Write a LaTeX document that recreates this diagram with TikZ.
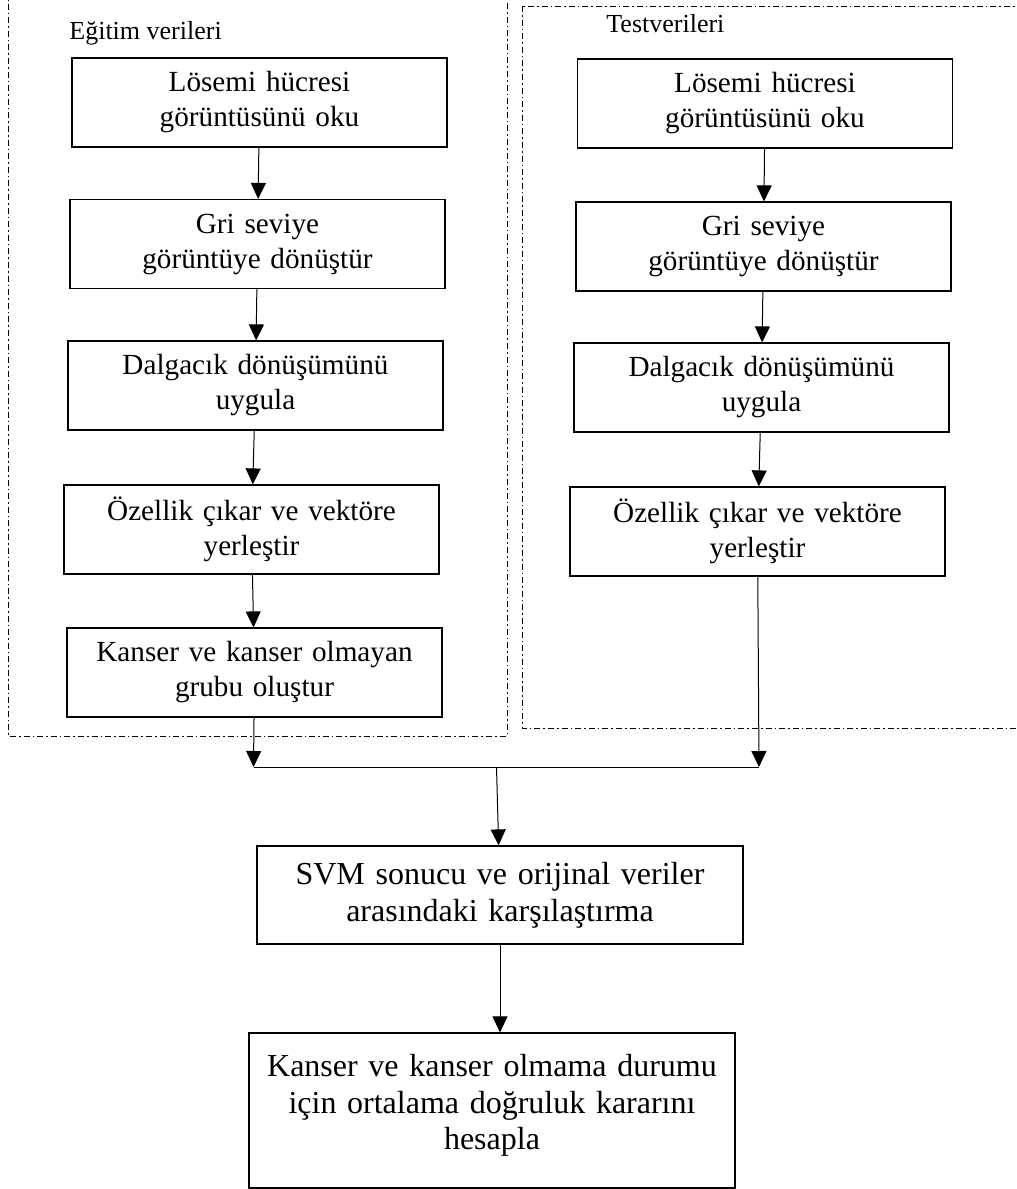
\documentclass[tikz,border=0pt]{standalone}
\usepackage{fontspec}
\setmainfont{Liberation Serif}
\usetikzlibrary{arrows.meta}

\tikzstyle{block} = [rectangle, draw, line width=0.6pt, text width=180pt, inner xsep=3.75pt, text centered, minimum height=44.5pt, font=\fontsize{14.6}{17.5}\selectfont]
\tikzstyle{bigblock} = [rectangle, draw, line width=0.6pt, text width=235pt, inner xsep=4pt, text centered, font=\fontsize{16}{18.3}\selectfont]
\tikzstyle{conn} = [draw, line width=0.5pt]
\tikzstyle{flow} = [draw, line width=0.5pt, -{Triangle[length=8pt,width=7.5pt]}]
\tikzstyle{groupframe} = [draw, line width=0.5pt, dash pattern=on 3pt off 1.5pt on 0.8pt off 1.5pt]
\tikzstyle{grouplabel} = [anchor=base west, inner sep=0pt, font=\fontsize{13}{15}\selectfont]

\begin{document}
\begin{tikzpicture}[x=0.5pt, y=-0.5pt, node distance = 71.5pt, auto]
\useasboundingbox (0,0) rectangle (1017,1189);
\draw [groupframe] (8,-10) rectangle (507,736);
\draw [groupframe] (522,6) rectangle (1030,728);
\node [grouplabel] (egitim) at (69,39) {Eğitim verileri};
\node [grouplabel] (test) at (606,32) {Testverileri};

\node [block] (L1) at (259.5,102.5) {Lösemi hücresi\\ görüntüsünü oku};
\node [block] (L2) [below of=L1, xshift=-1pt, yshift=0.75pt] {Gri seviye\\ görüntüye dönüştür};
\node [block] (L3) [below of=L2, xshift=-1pt, yshift=0.75pt] {Dalgacık dönüşümünü\\ uygula};
\node [block] (L4) [below of=L3, xshift=-2pt, yshift=-0.5pt] {Özellik çıkar ve vektöre\\ yerleştir};
\node [block] (L5) [below of=L4, xshift=1.5pt] {Kanser ve kanser olmayan\\ grubu oluştur};

\node [block] (R1) at (765,103.5) {Lösemi hücresi\\ görüntüsünü oku};
\node [block] (R2) [below of=R1, xshift=-0.75pt] {Gri seviye\\ görüntüye dönüştür};
\node [block] (R3) [below of=R2, xshift=-1pt, yshift=1pt] {Dalgacık dönüşümünü\\ uygula};
\node [block] (R4) [below of=R3, xshift=-2pt, yshift=-0.5pt] {Özellik çıkar ve vektöre\\ yerleştir};

\node [bigblock, minimum height=49pt] (svm) at (500,895) {SVM sonucu ve orijinal veriler\\ arasındaki karşılaştırma};
\node [bigblock, minimum height=77.5pt] (res) [below of=svm, node distance=107.75pt, xshift=-4pt] {Kanser ve kanser olmama durumu\\ için ortalama doğruluk kararını\\ hesapla\rule[-8.5pt]{0pt}{8.5pt}};

\coordinate (jl) at (253.5,767);
\coordinate (jr) at (759,767);
\coordinate (jm) at (496.5,767);

\draw [flow] (L1) -- (L2);
\draw [flow] (L2) -- (L3);
\draw [flow] (L3) -- (L4);
\draw [flow] (L4) -- (L5);
\draw [flow] (L5) -- (jl);
\draw [flow] (R1) -- (R2);
\draw [flow] (R2) -- (R3);
\draw [flow] (R3) -- (R4);
\draw [flow] (R4) -- (jr);
\draw [conn] (jl) -- (jr);
\draw [flow] (jm) -- (svm);
\draw [flow] (svm.south) -- (svm.south |- res.north);
\end{tikzpicture}
\end{document}
